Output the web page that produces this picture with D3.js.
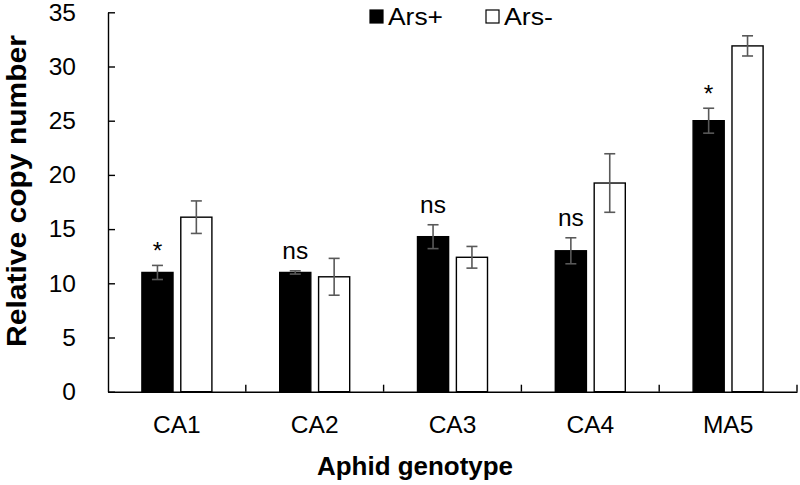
<!DOCTYPE html>
<html><head><meta charset="utf-8">
<script src="https://cdn.jsdelivr.net/npm/d3@7"></script>
<style>
html,body{margin:0;padding:0;background:#fff;}
text{font-family:"Liberation Sans",Arial,sans-serif;fill:#000;}
</style></head>
<body><svg id="c" width="800" height="485"></svg>
<script>
const categories = ["CA1","CA2","CA3","CA4","MA5"];
const series = ["Ars+","Ars-"];
const arsPlus = [11.0, 11.0, 14.3, 13.0, 25.0];
const arsPlusErr = [0.65, 0.15, 1.1, 1.2, 1.15];
const arsMinus = [16.1, 10.6, 12.4, 19.25, 31.9];
const arsMinusErr = [1.5, 1.7, 1.0, 2.7, 0.93];
const sigLabels = ["*", "ns", "ns", "ns", "*"];
const yTicks = [0,5,10,15,20,25,30,35];

const svg = d3.select("#c");
const mLeft = 108, mRight = 797, mTop = 12.3, mBottom = 391.7;
const FS = 24.5;

const x = d3.scaleBand().domain(categories).range([mLeft, mRight]).padding(0);
const x1 = d3.scaleBand().domain(series)
  .range([x.bandwidth()/2 - 35, x.bandwidth()/2 + 35]).paddingInner(0.2);
const y = d3.scaleLinear().domain([0,35]).range([mBottom, mTop]);

const rows = categories.map((c,i)=>({c, vals:[
  {s:"Ars+", v:arsPlus[i], e:arsPlusErr[i]},
  {s:"Ars-", v:arsMinus[i], e:arsMinusErr[i]}], sig:sigLabels[i]}));
const fill = {"Ars+":"#000", "Ars-":"#fff"};

// bars
const g = svg.append("g").selectAll("g").data(rows).join("g")
  .attr("transform", d=>`translate(${x(d.c)},0)`);
g.selectAll("rect").data(d=>d.vals).join("rect")
  .attr("x", d=>x1(d.s)).attr("width", x1.bandwidth())
  .attr("y", d=>y(d.v)).attr("height", d=>y(0)-y(d.v))
  .attr("fill", d=>fill[d.s]).attr("stroke","#000").attr("stroke-width",1.4);

// error bars
const eb = g.selectAll("g.eb").data(d=>d.vals).join("g").attr("class","eb")
  .attr("stroke","#595959").attr("stroke-width",1.6);
const cx = d=>x1(d.s)+x1.bandwidth()/2;
eb.append("line").attr("x1", cx).attr("x2", cx)
  .attr("y1", d=>y(d.v+d.e)).attr("y2", d=>y(d.v-d.e));
eb.append("line").attr("x1", d=>cx(d)-5.5).attr("x2", d=>cx(d)+5.5)
  .attr("y1", d=>y(d.v+d.e)).attr("y2", d=>y(d.v+d.e));
eb.append("line").attr("x1", d=>cx(d)-5.5).attr("x2", d=>cx(d)+5.5)
  .attr("y1", d=>y(d.v-d.e)).attr("y2", d=>y(d.v-d.e));

// significance labels
g.append("text")
  .attr("x", x1("Ars+")+x1.bandwidth()/2)
  .attr("y", d=>y(d.vals[0].v+d.vals[0].e)-(d.sig==="*"?6:12))
  .attr("text-anchor","middle").attr("font-size",FS)
  .text(d=>d.sig);

// y axis
const ya = svg.append("g").attr("transform",`translate(${mLeft},0)`)
  .call(d3.axisLeft(y).tickValues(yTicks).tickSizeInner(-7).tickSizeOuter(0).tickPadding(32));
ya.select(".domain").attr("stroke","#000").attr("stroke-width",1.4);
ya.selectAll(".tick line").attr("stroke","#000").attr("stroke-width",1.4);
ya.selectAll(".tick text").attr("font-size",FS).attr("font-family",null);

// x axis
const xa = svg.append("g").attr("transform",`translate(0,${mBottom})`)
  .call(d3.axisBottom(x).tickSize(0).tickPadding(0));
xa.select(".domain").attr("stroke","#000").attr("stroke-width",1.4);
xa.selectAll(".tick text").attr("font-size",FS).attr("font-family",null)
  .attr("y",41).attr("dy",0);
svg.append("g").selectAll("line").data(categories).join("line")
  .attr("x1", d=>x(d)+x.bandwidth()).attr("x2", d=>x(d)+x.bandwidth())
  .attr("y1", mBottom).attr("y2", mBottom-7)
  .attr("stroke","#000").attr("stroke-width",1.4);

// titles
svg.append("text").attr("x",415).attr("y",475).attr("text-anchor","middle")
  .attr("font-size",25.5).attr("font-weight","bold")
  .attr("textLength",196).attr("lengthAdjust","spacingAndGlyphs")
  .text("Aphid genotype");
svg.append("text").attr("transform","translate(26,191) rotate(-90)")
  .attr("text-anchor","middle").attr("font-size",27).attr("font-weight","bold")
  .attr("textLength",312).attr("lengthAdjust","spacingAndGlyphs")
  .text("Relative copy number");

// legend
const legX = [370, 486], legW = [55, 49];
const lg = svg.append("g").selectAll("g").data(series).join("g");
lg.append("rect").attr("x",(d,i)=>legX[i]).attr("y",10).attr("width",13).attr("height",13)
  .attr("fill",d=>fill[d]).attr("stroke","#000").attr("stroke-width",1.2);
lg.append("text").attr("x",(d,i)=>legX[i]+18).attr("y",25).attr("font-size",FS)
  .attr("textLength",(d,i)=>legW[i]).attr("lengthAdjust","spacingAndGlyphs")
  .text(d=>d);
</script></body></html>
